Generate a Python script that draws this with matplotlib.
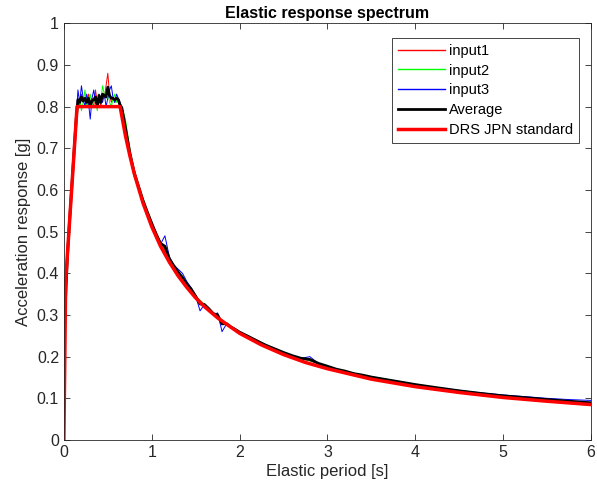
import numpy as np
import matplotlib
matplotlib.use("Agg")
import matplotlib.pyplot as plt

plt.rcParams['font.family'] = ['Liberation Sans', 'DejaVu Sans']

# periods [s] at which the input spectra were read
periods = [0.02, 0.04, 0.06, 0.08, 0.10, 0.12, 0.14,
           0.16, 0.18, 0.20, 0.22, 0.24, 0.26, 0.28, 0.30, 0.32, 0.34,
           0.36, 0.38, 0.40, 0.42, 0.44, 0.46, 0.48, 0.50, 0.52, 0.54,
           0.56, 0.58, 0.60, 0.62, 0.64, 0.66,
           0.70, 0.75, 0.80, 0.85, 0.90, 0.95, 1.00, 1.05, 1.10, 1.15,
           1.20, 1.25, 1.30, 1.35, 1.40, 1.45, 1.50, 1.55, 1.60, 1.65,
           1.70, 1.75, 1.80, 1.85, 1.90, 1.95, 2.00,
           2.1, 2.2, 2.3, 2.4, 2.5, 2.6, 2.7, 2.8, 2.9, 3.0, 3.1, 3.2, 3.3, 3.4, 3.5,
           3.75, 4.0, 4.25, 4.5, 4.75, 5.0, 5.25, 5.5, 5.75, 6.0]

input1 = [0.36, 0.45, 0.52, 0.58, 0.65, 0.71, 0.78,
          0.81, 0.80, 0.83, 0.81, 0.82, 0.80, 0.83, 0.81, 0.82, 0.80,
          0.84, 0.81, 0.82, 0.80, 0.83, 0.82, 0.85, 0.88, 0.83, 0.81,
          0.82, 0.81, 0.82, 0.81, 0.80, 0.79,
          0.74, 0.69, 0.65, 0.61, 0.575, 0.545, 0.52, 0.50, 0.475, 0.455,
          0.435, 0.42, 0.40, 0.385, 0.372, 0.36, 0.345, 0.335, 0.325, 0.315,
          0.305, 0.298, 0.288, 0.28, 0.272, 0.267, 0.26,
          0.25, 0.24, 0.228, 0.218, 0.21, 0.202, 0.195, 0.19, 0.183, 0.177,
          0.17, 0.165, 0.16, 0.156, 0.151,
          0.141, 0.132, 0.125, 0.118, 0.112, 0.106, 0.102, 0.098, 0.094, 0.090]

input2 = [0.33, 0.43, 0.50, 0.57, 0.63, 0.70, 0.76,
          0.80, 0.82, 0.79, 0.81, 0.84, 0.80, 0.82, 0.83, 0.80, 0.81,
          0.82, 0.79, 0.83, 0.81, 0.85, 0.83, 0.82, 0.84, 0.81, 0.80,
          0.82, 0.83, 0.81, 0.82, 0.80, 0.80,
          0.77, 0.70, 0.63, 0.61, 0.58, 0.55, 0.52, 0.49, 0.47, 0.45,
          0.43, 0.415, 0.40, 0.385, 0.37, 0.36, 0.345, 0.335, 0.325, 0.315,
          0.305, 0.297, 0.288, 0.28, 0.272, 0.265, 0.258,
          0.248, 0.237, 0.228, 0.219, 0.21, 0.203, 0.197, 0.19, 0.185, 0.178,
          0.17, 0.166, 0.16, 0.156, 0.152,
          0.143, 0.134, 0.125, 0.117, 0.11, 0.104, 0.099, 0.093, 0.088, 0.083]

input3 = [0.34, 0.44, 0.51, 0.58, 0.64, 0.71, 0.77,
          0.84, 0.81, 0.85, 0.82, 0.80, 0.83, 0.81, 0.77, 0.82, 0.84,
          0.81, 0.80, 0.83, 0.82, 0.81, 0.83, 0.80, 0.82, 0.84, 0.85,
          0.82, 0.81, 0.83, 0.82, 0.81, 0.80,
          0.74, 0.68, 0.645, 0.605, 0.57, 0.545, 0.52, 0.49, 0.47, 0.49,
          0.44, 0.42, 0.41, 0.40, 0.38, 0.365, 0.345, 0.31, 0.325, 0.315,
          0.30, 0.305, 0.26, 0.278, 0.27, 0.264, 0.258,
          0.247, 0.235, 0.226, 0.219, 0.21, 0.202, 0.196, 0.20, 0.183, 0.176,
          0.17, 0.165, 0.158, 0.155, 0.15,
          0.142, 0.133, 0.126, 0.119, 0.113, 0.108, 0.104, 0.10, 0.097, 0.095]

# design spectrum
drs_periods = [0.0, 0.02, 0.15, 0.64, 0.70, 0.75, 0.80, 0.90, 1.0, 1.1, 1.2,
               1.3, 1.4, 1.5, 1.6, 1.75, 2.0, 2.25, 2.5, 2.75, 3.0, 3.5,
               4.0, 4.5, 5.0, 5.5, 6.0]
drs_values = [0.0, 0.38, 0.80, 0.80, 0.731, 0.683, 0.640, 0.569, 0.512, 0.465, 0.427,
              0.394, 0.366, 0.341, 0.320, 0.293, 0.256, 0.228, 0.205, 0.186, 0.171, 0.146,
              0.128, 0.114, 0.102, 0.093, 0.085]

average = np.mean([input1, input2, input3], axis=0)

fig = plt.figure(figsize=(5.97, 4.92), dpi=100)
ax = fig.add_axes([0.107, 0.1057, 0.883, 0.847])

ax.plot(periods, input1, color=(1, 0, 0), lw=0.7, label='input1')
ax.plot(periods, input2, color=(0, 1, 0), lw=0.7, label='input2')
ax.plot(periods, input3, color=(0, 0, 1), lw=0.7, label='input3')
ax.plot(periods, average, color='black', lw=2, label='Average')
ax.plot(drs_periods, drs_values, color=(1, 0, 0), lw=2.5, label='DRS JPN standard')

ax.set_xlim(0, 6)
ax.set_ylim(0, 1)
ax.set_xticks(range(7))
ax.set_yticks(np.arange(0, 1.01, 0.1))
ax.set_yticklabels(['0', '0.1', '0.2', '0.3', '0.4', '0.5', '0.6', '0.7', '0.8', '0.9', '1'])

grey = '#262626'
for s in ax.spines.values():
    s.set_color(grey)
    s.set_linewidth(0.6)
ax.tick_params(direction='in', top=True, right=True, length=4, width=0.6,
               colors=grey, labelsize=11.5, labelcolor=grey)

ax.set_xlabel('Elastic period [s]', fontsize=12, color=grey, labelpad=3)
ax.set_ylabel('Acceleration response [g]', fontsize=12, color=grey, labelpad=4)
ax.set_title('Elastic response spectrum', fontsize=11.5, fontweight='bold', pad=4)

leg = ax.legend(loc='upper right', bbox_to_anchor=(0.977, 0.965), fontsize=10.5,
                fancybox=False, framealpha=1, edgecolor=grey, handlelength=3.2,
                borderpad=0.4, labelspacing=0.4, handletextpad=0.3,
                borderaxespad=0)
leg.get_frame().set_linewidth(0.6)
for line in leg.get_lines()[:3]:
    line.set_linewidth(1.0)

fig.savefig('out.png', dpi=100)
